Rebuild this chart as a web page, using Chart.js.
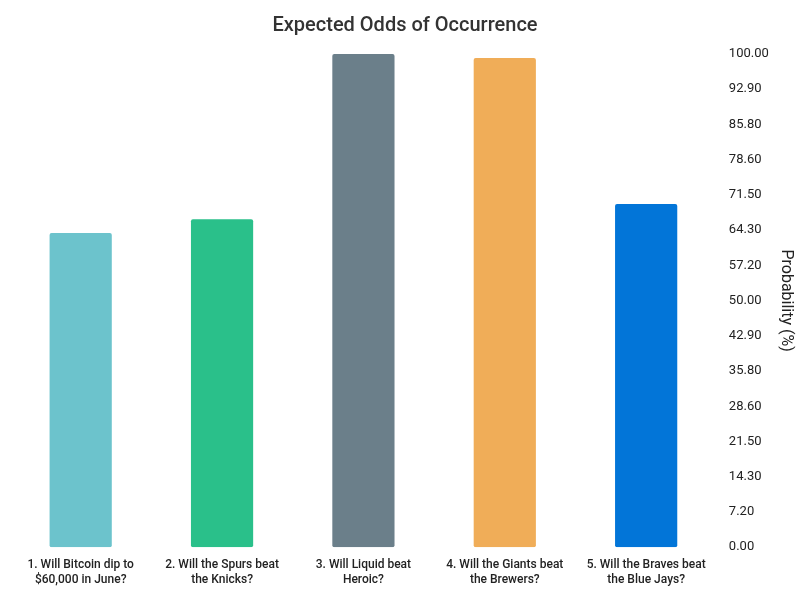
<!DOCTYPE html>
<html><head><meta charset="utf-8">
<script src="https://cdn.jsdelivr.net/npm/chart.js@4"></script>
<style>html,body{margin:0;padding:0;background:#fff}#w{width:800px;height:600px}</style>
</head><body><div id="w"><canvas id="c"></canvas></div>
<script>
const categories = [
  ["1. Will Bitcoin dip to", "$60,000 in June?"],
  ["2. Will the Spurs beat", "the Knicks?"],
  ["3. Will Liquid beat", "Heroic?"],
  ["4. Will the Giants beat", "the Brewers?"],
  ["5. Will the Braves beat", "the Blue Jays?"]
];
const values = [63.7, 66.5, 100, 99.2, 69.6];
const colors = ["#6cc3cc", "#2ac08a", "#6b7f8a", "#f0ad58", "#0275d8"];
const tickLabels = ["0.00","7.20","14.30","21.50","28.60","35.80","42.90","50.00","57.20","64.30","71.50","78.60","85.80","92.90","100.00"];

Chart.defaults.font.family = "Roboto";
new Chart(document.getElementById('c'), {
  type: 'bar',
  data: { labels: categories, datasets: [{ data: values, backgroundColor: colors, borderRadius: 2, borderSkipped: false, barPercentage: 0.55, categoryPercentage: 0.8 }] },
  options: {
    responsive: true, maintainAspectRatio: false, animation: false,
    layout: { padding: { left: 10, right: 0, bottom: 10 } },
    plugins: {
      legend: { display: false }, tooltip: { enabled: false },
      title: { display: true, text: 'Expected Odds of Occurrence', color: '#333', font: { size: 20, weight: '500' }, padding: { top: 14, bottom: 16 } },
    },
    scales: {
      x: { grid: { display: false }, border: { display: false }, ticks: { color: '#222', font: { size: 12, weight: '500' }, maxRotation: 0, autoSkip: false } },
      y: {
        position: 'right', min: 0, max: 100,
        afterBuildTicks: (s) => { s.ticks = tickLabels.map((t, i) => ({ value: i * 100 / 14 })); },
        grid: { display: false }, border: { display: false },
        ticks: { color: '#222', font: { size: 13 }, padding: 4, callback: (v, i) => tickLabels[i] },
        title: { display: true, text: 'Probability (%)', color: '#222', font: { size: 16 } }
      }
    }
  }
});
</script></body></html>
